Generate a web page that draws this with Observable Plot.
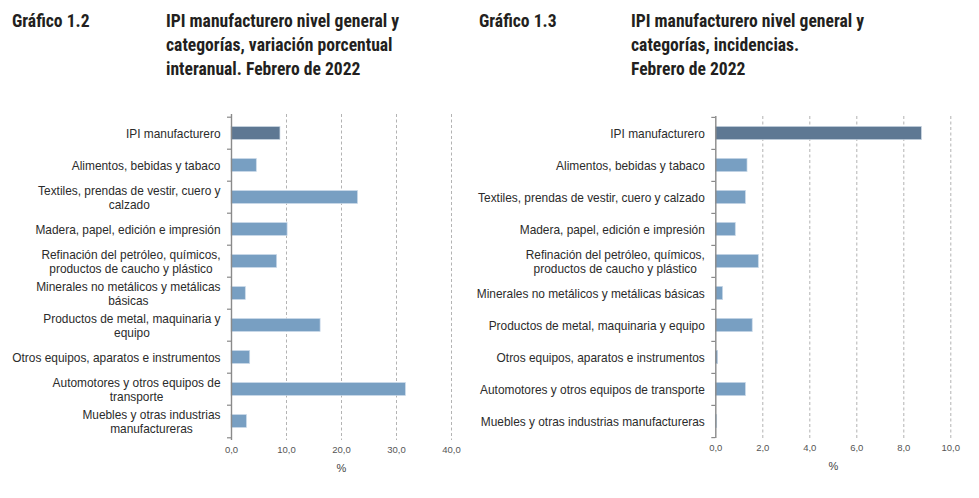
<!DOCTYPE html>
<html>
<head>
<meta charset="utf-8">
<script src="https://cdn.jsdelivr.net/npm/d3@7"></script>
<script src="https://cdn.jsdelivr.net/npm/@observablehq/plot@0.6"></script>
<style>
  html, body { margin: 0; padding: 0; background: #fff; }
  #page { position: relative; width: 979px; height: 498px; overflow: hidden; font-family: "Liberation Sans", Arial, sans-serif; }
  .hdr { position: absolute; font-family: "Liberation Sans Narrow", "Roboto Condensed", "DejaVu Sans Condensed", sans-serif; font-weight: bold; font-size: 17.6px; line-height: 24.2px; color: #231f20; font-stretch: condensed; white-space: nowrap; }
  .chart { position: absolute; top: 100px; }
</style>
</head>
<body>
<div id="page">
  <div class="hdr" style="left:12px; top:9px;">Gráfico 1.2</div>
  <div class="hdr" style="left:166px; top:9px;">IPI manufacturero nivel general y<br>categorías, variación porcentual<br>interanual. Febrero de 2022</div>
  <div class="hdr" style="left:479px; top:9px;">Gráfico 1.3</div>
  <div class="hdr" style="left:631px; top:9px;">IPI manufacturero nivel general y<br>categorías, incidencias.<br>Febrero de 2022</div>
  <div class="chart" id="left" style="left:0px;"></div>
  <div class="chart" id="right" style="left:490px;"></div>
</div>
<script>
// ---- Data ----
const categories = [
  "IPI manufacturero",
  "Alimentos, bebidas y tabaco",
  "Textiles, prendas de vestir, cuero y calzado",
  "Madera, papel, edición e impresión",
  "Refinación del petróleo, químicos, productos de caucho y plástico",
  "Minerales no metálicos y metálicas básicas",
  "Productos de metal, maquinaria y equipo",
  "Otros equipos, aparatos e instrumentos",
  "Automotores y otros equipos de transporte",
  "Muebles y otras industrias manufactureras"
];
const labelsLeft = [
  "IPI manufacturero",
  "Alimentos, bebidas y tabaco",
  "Textiles, prendas de vestir, cuero y\ncalzado",
  "Madera, papel, edición e impresión",
  "Refinación del petróleo, químicos,\nproductos de caucho y plástico",
  "Minerales no metálicos y metálicas\nbásicas",
  "Productos de metal, maquinaria y\nequipo",
  "Otros equipos, aparatos e instrumentos",
  "Automotores y otros equipos de\ntransporte",
  "Muebles y otras industrias\nmanufactureras"
];
const labelsRight = [
  "IPI manufacturero",
  "Alimentos, bebidas y tabaco",
  "Textiles, prendas de vestir, cuero y calzado",
  "Madera, papel, edición e impresión",
  "Refinación del petróleo, químicos,\nproductos de caucho y plástico",
  "Minerales no metálicos y metálicas básicas",
  "Productos de metal, maquinaria y equipo",
  "Otros equipos, aparatos e instrumentos",
  "Automotores y otros equipos de transporte",
  "Muebles y otras industrias manufactureras"
];
// Variación porcentual interanual (%)
const variacion = [8.9, 4.6, 23.0, 10.2, 8.3, 2.6, 16.2, 3.4, 31.7, 2.8];
// Incidencias (p.p.)
const incidencias = [8.77, 1.35, 1.28, 0.85, 1.83, 0.31, 1.57, 0.10, 1.28, 0.06];
const ticksLeft = [0, 10, 20, 30, 40];
const ticksRight = [0, 2, 4, 6, 8, 10];
const axisUnit = "%";

const darkBlue = "#5e7893";
const lightBlue = "#789fc2";
const fmt = d => d.toFixed(1).replace(".", ",");

function makeChart({labels, values, ticks, width, height, marginLeft, marginRight, marginTop, marginBottom, barThickness}) {
  const rows = labels.map((label, i) => ({label, name: categories[i], value: values[i]}));
  const plotH = height - marginTop - marginBottom;
  const bw = plotH / labels.length;
  const inset = (bw - barThickness) / 2;
  const grid = ticks.filter(t => t !== 0);
  const plot = Plot.plot({
    width, height, marginLeft, marginRight, marginTop, marginBottom,
    style: {fontFamily: "'Liberation Sans', Arial, sans-serif", background: "transparent", overflow: "visible"},
    x: {domain: [ticks[0], ticks[ticks.length - 1]], axis: null},
    y: {domain: labels, padding: 0, axis: null},
    marks: [
      Plot.ruleX(grid, {stroke: "#b3b3b3", strokeWidth: 1, strokeDasharray: "3,2.5"}),
      Plot.barX(rows.filter((d, i) => i === 0), {x: "value", y: "label", fill: darkBlue, stroke: "#c9d6e3", strokeWidth: 0.7, insetTop: inset, insetBottom: inset}),
      Plot.barX(rows.filter((d, i) => i > 0), {x: "value", y: "label", fill: lightBlue, stroke: "#c9d9e8", strokeWidth: 0.7, insetTop: inset, insetBottom: inset}),
      Plot.ruleX([ticks[0]], {stroke: "#8a8a8a", strokeWidth: 1.4}),
      Plot.axisY({ticks: labels, tickSize: 4, tickFormat: () => "", label: null, stroke: "#8a8a8a", strokeWidth: 1.2, dy: -bw / 2}),
      Plot.axisY({ticks: [labels[labels.length - 1]], tickSize: 4, tickFormat: () => "", label: null, stroke: "#8a8a8a", strokeWidth: 1.2, dy: bw / 2}),
      Plot.text(rows, {y: "label", text: "label", frameAnchor: "left", textAnchor: "end", lineAnchor: "middle", dx: -11, fontSize: 11.9, fill: "#2b2b2b", lineHeight: 1.22}),
      Plot.axisX({ticks, tickSize: 0, tickPadding: 6, tickFormat: fmt, fontSize: 9.5, color: "#555", label: null}),
      Plot.text([axisUnit], {frameAnchor: "bottom", text: d => d, lineAnchor: "middle", dy: 28, fontSize: 11, fill: "#444"})
    ]
  });
  return plot;
}

function centerMultiline(svg) {
  svg.querySelectorAll("text").forEach(t => {
    const spans = t.querySelectorAll("tspan");
    if (spans.length > 1) {
      let w = 0;
      spans.forEach(s => { w = Math.max(w, s.getComputedTextLength()); });
      t.setAttribute("text-anchor", "middle");
      t.style.textAnchor = "middle";
      t.setAttribute("transform", `translate(${-w / 2},0) ` + (t.getAttribute("transform") || ""));
    }
  });
}

const left = makeChart({labels: labelsLeft, values: variacion, ticks: ticksLeft, width: 490, height: 390,
  marginLeft: 231, marginRight: 39, marginTop: 14, marginBottom: 50, barThickness: 13.5});
document.getElementById("left").appendChild(left);
centerMultiline(left);

const right = makeChart({labels: labelsRight, values: incidencias, ticks: ticksRight, width: 489, height: 390,
  marginLeft: 225.3, marginRight: 28.7, marginTop: 16, marginBottom: 52, barThickness: 13.5});
document.getElementById("right").appendChild(right);
centerMultiline(right);
</script>
</body>
</html>
